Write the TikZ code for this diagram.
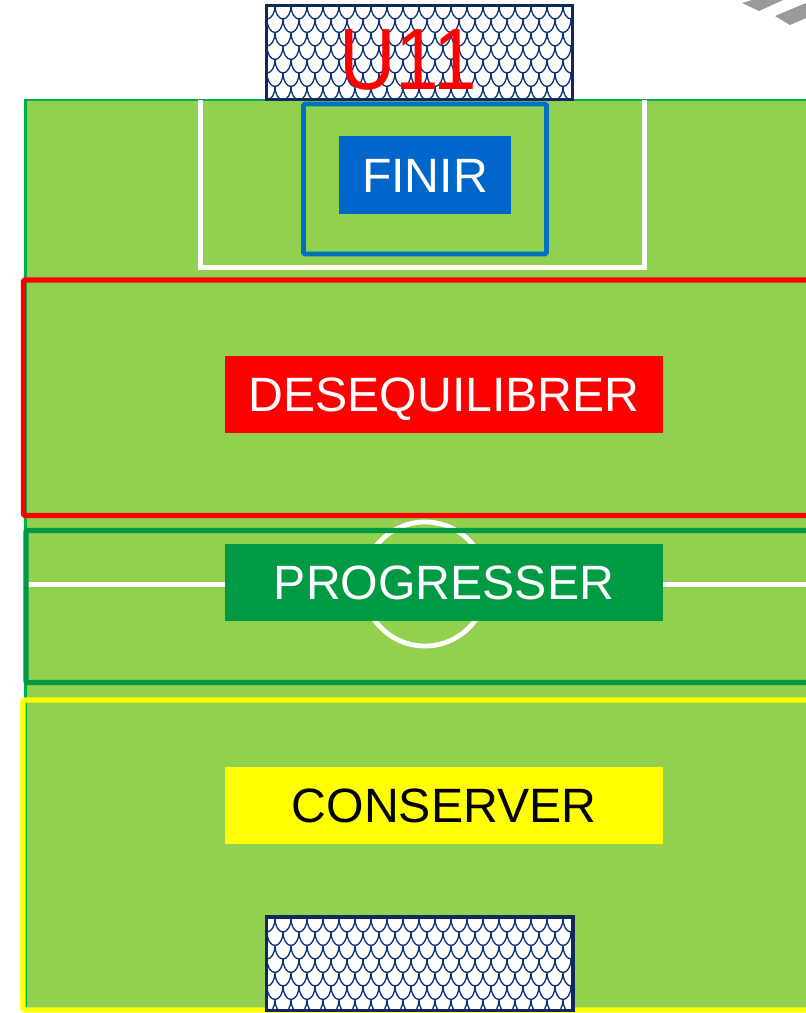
\documentclass[tikz,border=0pt]{standalone}
\usepackage{fontspec}
\setmainfont{Liberation Sans}
\definecolor{fieldgreen}{HTML}{92D050}
\definecolor{fieldline}{HTML}{00B050}
\definecolor{areablue}{HTML}{0070C0}
\definecolor{finirblue}{HTML}{0066CC}
\definecolor{progreen}{HTML}{009A44}
\definecolor{zoneyellow}{HTML}{FFFF00}
\definecolor{netnavy}{HTML}{0A2E7A}
\definecolor{netborder}{HTML}{10285A}
\definecolor{bargrey}{HTML}{9C989C}
\begin{document}
\begin{tikzpicture}[x=1pt,y=-1pt,
  zonebox/.style={line width=5.4pt, rounded corners=1.5pt},
  tag/.style={minimum width=438pt, minimum height=77pt, inner sep=0pt,
    font=\fontsize{48.2}{48}\selectfont, text height=34.5pt, text depth=0pt},
  pitchline/.style={white, line width=4.8pt},
  goalbox/.style={draw=netborder, line width=2pt, fill=white, minimum width=305pt, inner sep=0pt}
]
\useasboundingbox (0,0) rectangle (806,1013);
% field
\fill[fieldgreen] (25.5,99.7) rectangle (806,1010);
\draw[fieldline, line width=2.3pt] (25.5,1010) -- (25.5,99.7) -- (806,99.7);
% penalty area
\draw[pitchline] (200.5,99.7) -- (200.5,267.5) -- (644.5,267.5) -- (644.5,99.7);
% centre line and circle
\draw[pitchline] (28,584.5) -- (806,584.5);
\draw[pitchline] (425,584) circle[radius=62];
% zones
\draw[zonebox, red] (23.5,280) rectangle (812,515.5);
\draw[zonebox, progreen] (26,530.5) rectangle (812,682.5);
\draw[zonebox, zoneyellow] (23,700) rectangle (812,1010);
% goal area
\draw[areablue, line width=4.8pt, rounded corners=1.5pt] (303.5,104) rectangle (546.5,254);
% labels
\node[tag, fill=finirblue, text=white, minimum width=172pt, minimum height=78pt] (finir) at (425,175) {FINIR};
\node[tag, fill=red, text=white] (deseq) at (444,394.5) {DESEQUILIBRER};
\node[tag, fill=progreen, text=white] (progr) at (444,582.5) {PROGRESSER};
\node[tag, fill=zoneyellow, text=black] (conserv) at (444,805.5) {CONSERVER};
% goals
\node[goalbox, minimum height=93pt] (goaltop) at (419.8,52.3) {};
\node[goalbox, minimum height=92pt] (goalbot) at (419.8,963.5) {};
\begin{scope}
  \clip (goaltop.south west) rectangle (goaltop.north east);
  \foreach \r in {0,...,8} {
    \pgfmathsetmacro\xo{mod(\r,2)*8}
    \foreach \c in {-1,...,20} {
      \draw[netnavy, line width=1.3pt] (267+\xo+\c*16, -8+\r*13.5) arc[start angle=180, end angle=0, x radius=8, y radius=13.5];
    }
  }
\end{scope}
\begin{scope}
  \clip (goalbot.south west) rectangle (goalbot.north east);
  \foreach \r in {0,...,8} {
    \pgfmathsetmacro\xo{mod(\r,2)*8}
    \foreach \c in {-1,...,20} {
      \draw[netnavy, line width=1.3pt] (267+\xo+\c*16, 905+\r*13.5) arc[start angle=180, end angle=0, x radius=8, y radius=13.5];
    }
  }
\end{scope}
\draw[netborder, line width=2pt] (goaltop.south west) rectangle (goaltop.north east);
\draw[netborder, line width=2.6pt] (goalbot.south west) rectangle (goalbot.north east);
% title
\node[text=red, inner sep=0pt, font=\fontsize{87}{87}\selectfont, text height=62.3pt, text depth=0pt] (u11) at (408,58.5) {\scalebox{0.9}[1]{U11}};
% grey marks top right
\fill[bargrey] (742,3) -- (752,0) -- (783,0) -- (759,11) -- cycle;
\fill[bargrey] (775,16) -- (806,3) -- (806,18) -- (790,25) -- cycle;
\end{tikzpicture}
\end{document}
